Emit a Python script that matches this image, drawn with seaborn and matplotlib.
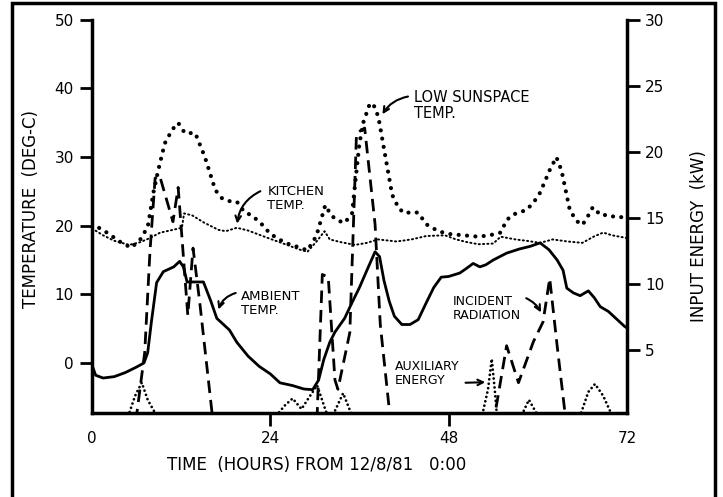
import numpy as np
import matplotlib
matplotlib.use("Agg")
import matplotlib.pyplot as plt
from matplotlib.patches import Rectangle
import seaborn as sns
import pandas as pd

sns.set_style("white")
plt.rcParams['font.family'] = ['DejaVu Sans']
plt.rcParams['text.color'] = 'black'
plt.rcParams['axes.labelcolor'] = 'black'

# --- data ---
# low sunspace temperature (deg C)
sun_hr = [0, 2, 4, 5.3, 6.5, 7.5, 8.3, 8.9, 9.8, 10.8, 11.6, 12.5, 13.9, 15.2, 16.6, 17.5,
          18.3, 19.5, 20.5, 21.5, 22.7, 24, 26, 28, 29, 30.2, 31.4, 32.2, 33, 34, 35, 35.5,
          36, 36.5, 37.3, 37.7, 38.2, 38.6, 39.4, 40.4, 41.3, 42.1, 43, 43.9, 45, 46.6, 48,
          50, 52, 53.5, 55, 55.8, 56.6, 58.5, 59.5, 60.3, 61.6, 62.5, 63.2, 64.3, 65.2, 66,
          66.8, 67.4, 68.5, 69.5, 70.5, 72]
sun_temp = [20.3, 19, 17.5, 16.8, 18, 19.8, 25, 28, 32, 34, 35, 33.5, 33.5, 30, 25.2, 24,
            23.6, 23.5, 22, 21.5, 20.4, 18.8, 17.5, 16.8, 16.4, 18.5, 23, 21.5, 20.8, 20.4, 21.8, 27,
            32, 35, 37.5, 37.9, 37, 35.5, 30.6, 24.5, 22.5, 21.8, 22, 21.9, 20.2, 19.2, 18.8,
            18.6, 18.4, 18.6, 19, 20.8, 21.6, 22.3, 23.5, 24.8, 28.1, 30, 28, 22.3, 20.7, 20.1,
            21.5, 22.7, 21.5, 21.6, 21.2, 21.3]

# kitchen temperature (deg C)
kit_hr = [0, 1.5, 3, 5, 6.5, 7.8, 9.2, 10.5, 12.1, 12.4, 13.5, 15, 17, 18, 19.5, 21, 23.7,
          26, 28, 29, 30.3, 31.3, 32, 33.5, 35.4, 37, 38.5, 41, 43, 45, 47.5, 49, 50.5, 52,
          54, 55, 57, 58.5, 60.3, 62, 64, 66, 67.5, 68.8, 70, 72]
kit_temp = [19.6, 18.6, 17.8, 17.2, 17.6, 18.2, 19, 19.3, 19.7, 21.8, 21.5, 20.5, 19.4, 19.2,
            19.7, 19.3, 18.2, 17.3, 16.5, 16.2, 17.8, 19.2, 18, 17.6, 17.2, 17.5, 18, 17.7, 18,
            18.5, 18.6, 18, 17.6, 17.3, 17.4, 18.4, 18, 17.8, 17.5, 18, 17.7, 17.5, 18.4, 19,
            18.6, 18.2]

# ambient temperature (deg C)
amb_hr = [0, 0.5, 1.5, 3, 4.5, 6, 7, 7.5, 8, 8.7, 9.6, 11, 11.8, 12.3, 12.8, 15, 16, 16.8,
          17.8, 18.5, 19.5, 21, 22.5, 24, 25.3, 27, 28.5, 29.7, 30.5, 31.2, 32, 32.7, 34, 35,
          36, 37, 38.1, 38.7, 39.3, 40, 40.7, 41.7, 42.8, 43.9, 45, 46, 47, 48, 49.5, 50.3,
          51.3, 52.2, 53, 54, 55.8, 57.5, 59, 60.3, 61.5, 62.6, 63.4, 63.9, 64.8, 65.7, 66.8,
          67.6, 68.4, 69.5, 70.5, 71.7, 72]
amb_temp = [-0.3, -1.8, -2.2, -2, -1.4, -0.6, 0, 1.5, 6, 11.7, 13.3, 14, 14.8, 14, 11.8, 11.8,
            9, 6.5, 5.5, 4.8, 3, 1, -0.5, -1.6, -2.9, -3.3, -3.8, -3.9, -2.5, 0.5, 3, 4.5, 6.5,
            8.8, 11, 13.5, 16.2, 15.5, 12, 9, 6.8, 5.6, 5.6, 6.3, 8.8, 11, 12.5, 12.6, 13.1,
            13.7, 14.5, 14, 14.3, 15, 16, 16.6, 17, 17.5, 16.5, 15, 13.5, 10.9, 10.2, 9.8, 10.5,
            9.5, 8.2, 7.5, 6.5, 5.3, 5.1]

# incident radiation (kW)
rad_hr = [0, 6, 7.1, 7.8, 8.5, 9.1, 10.9, 11.6, 12.9, 13.6, 14.5, 16.2, 30.3, 31, 31.8, 32.7,
          33.1, 34.7, 35.6, 36.7, 38.1, 38.8, 40.1, 54.2, 55.8, 57.4, 59.4, 60.7, 61.6, 62.6,
          63.7, 72]
rad_kw = [0, 0, 4.8, 12.4, 18, 18.2, 14.7, 17.3, 7.6, 12.7, 8.6, 0, 0, 10.7, 10.5, 2.7,
          2.0, 6.3, 21.4, 21.8, 14.5, 6.9, 0, 0, 5.3, 2.5, 5.6, 7.1, 10.4, 5.3,
          0, 0]

# auxiliary energy (kW)
aux_hr = [0, 4.9, 5.8, 6.7, 7.5, 8.7, 24.8, 26, 27, 28.2, 29, 30.3, 31.5, 32.4, 33.8, 35,
          52.5, 53.3, 53.8, 54.2, 54.5, 57.8, 58.8, 60, 65.7, 66.8, 67.7, 68.8, 70, 72]
aux_kw = [0, 0, 1.5, 2.5, 1.2, 0, 0, 0.8, 1.3, 0.5, 1.2, 2.3, 0.3, 0, 1.7, 0,
          0, 2, 4.3, 2, 0, 0, 1.2, 0, 0, 1.8, 2.4, 1.5, 0, 0]

temp_ticks = [0, 10, 20, 30, 40, 50]
kw_ticks = [5, 10, 15, 20, 25, 30]
hour_ticks = [0, 24, 48, 72]

fig = plt.figure(figsize=(7.23, 4.97), dpi=100)
ax = fig.add_axes([0.1272, 0.169, 0.74, 0.791])
ax2 = ax.twinx()

big_dots = dict(color='black', lw=3.0, linestyle=(0, (0.01, 2.0)), dash_capstyle='round')
small_dots = dict(color='black', lw=1.4, linestyle=(0, (0.6, 1.6)), dash_capstyle='round')

sns.lineplot(x=sun_hr, y=sun_temp, ax=ax, **big_dots)
sns.lineplot(x=kit_hr, y=kit_temp, ax=ax, **small_dots)
sns.lineplot(x=amb_hr, y=amb_temp, ax=ax, color='black', lw=2.0)
sns.lineplot(x=rad_hr, y=rad_kw, ax=ax2, color='black', lw=2.0, linestyle=(0, (4.5, 2.5)))
sns.lineplot(x=aux_hr, y=aux_kw, ax=ax2, color='black', lw=2.0, linestyle=(0, (0.01, 1.6)),
             dash_capstyle='round')

ax.set_xlim(0, 72)
ax.set_ylim(-7.3, 50)
ax2.set_ylim(0.2, 30)
ax.set_xticks(hour_ticks)
ax.set_yticks(temp_ticks)
ax2.set_yticks(kw_ticks)

for a in (ax, ax2):
    a.spines['top'].set_visible(False)
    for s in ('left', 'right', 'bottom'):
        a.spines[s].set_linewidth(2.5)
        a.spines[s].set_color('black')
    a.tick_params(width=2, length=9, labelsize=11, colors='black', pad=4)
    a.set_facecolor('none')

ax.spines['right'].set_visible(False)
ax2.spines['left'].set_visible(False)
ax2.spines['bottom'].set_visible(False)
ax.tick_params(axis='x', bottom=True, length=9, pad=4)
ax.tick_params(axis='y', left=True)
ax2.tick_params(axis='y', right=True)
ticks = ax.xaxis.get_major_ticks()
ticks[0].tick1line.set_visible(False)
ticks[-1].tick1line.set_visible(False)

ax.set_xlabel('TIME  (HOURS) FROM 12/8/81   0:00', fontsize=12)
ax.xaxis.set_label_coords(0.419, -0.11)
ax.set_ylabel('TEMPERATURE  (DEG-C)', fontsize=12)
ax.yaxis.set_label_coords(-0.097, 0.52)
ax2.set_ylabel('INPUT ENERGY  (kW)', fontsize=12)
ax2.yaxis.set_label_coords(1.118, 0.45)

# labels and arrows
arrow = dict(arrowstyle='->', color='black', lw=1.5)
ax.text(23.6, 24.0, 'KITCHEN\nTEMP.', fontsize=9.5, va='center', ha='left', linespacing=1.1)
ax.annotate('', xy=(19.5, 19.9), xytext=(23.0, 25.2),
            arrowprops=dict(arrow, connectionstyle='arc3,rad=0.3'))
ax.text(43.3, 37.5, 'LOW SUNSPACE\nTEMP.', fontsize=10.5, va='center', ha='left', linespacing=1.1)
ax.annotate('', xy=(38.9, 35.9), xytext=(42.9, 38.9),
            arrowprops=dict(arrow, connectionstyle='arc3,rad=0.25'))
ax.text(20.0, 8.7, 'AMBIENT\nTEMP.', fontsize=9.5, va='center', ha='left', linespacing=1.1)
ax.annotate('', xy=(16.9, 7.4), xytext=(19.7, 10.3),
            arrowprops=dict(arrow, connectionstyle='arc3,rad=0.3'))
ax.text(48.5, 8.0, 'INCIDENT\nRADIATION', fontsize=9, va='center', ha='left', linespacing=1.1)
ax.annotate('', xy=(60.6, 7.0), xytext=(58.1, 9.6),
            arrowprops=dict(arrow, connectionstyle='arc3,rad=-0.2'))
ax.text(40.8, -1.6, 'AUXILIARY\nENERGY', fontsize=9, va='center', ha='left', linespacing=1.1)
ax.annotate('', xy=(53.3, -2.8), xytext=(49.9, -2.9),
            arrowprops=dict(arrow, connectionstyle='arc3,rad=0'))

# outer frame of the scanned page
fig.add_artist(Rectangle((12 / 723, -0.1), (715 - 12) / 723, 1.1 - 3 / 497,
                         transform=fig.transFigure, fill=False, lw=2.5, color='black'))

fig.savefig('out.png', dpi=100, facecolor='white')
